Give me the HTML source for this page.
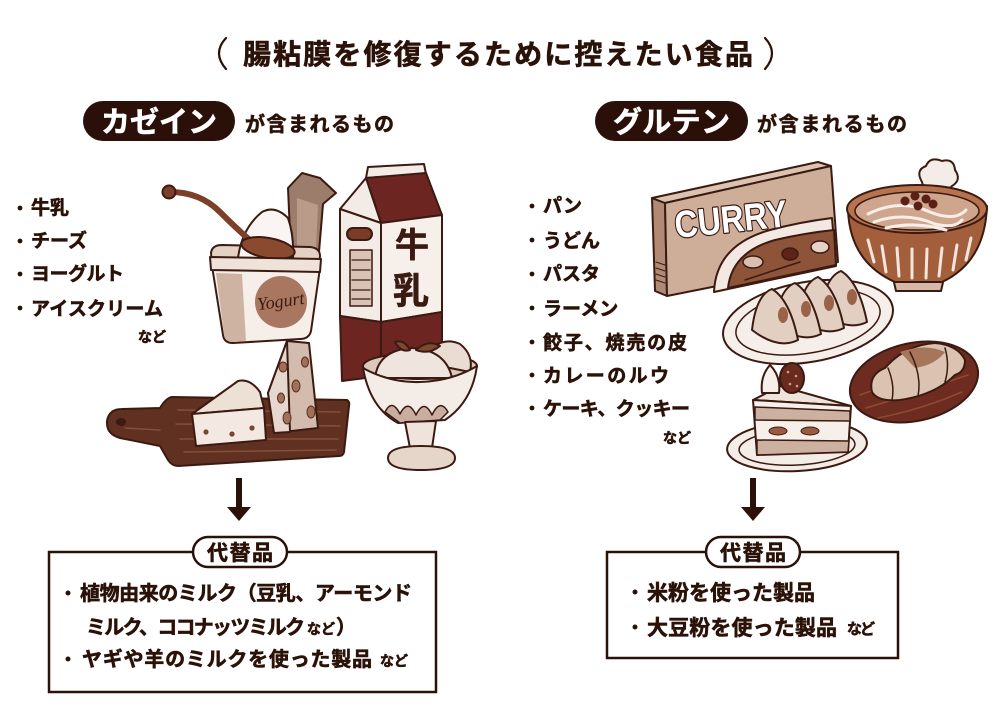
<!DOCTYPE html>
<html><head><meta charset="utf-8">
<style>
html,body{margin:0;padding:0;background:#fff;}
body{width:1000px;height:714px;overflow:hidden;position:relative;}
svg{position:absolute;left:0;top:0;}
text{font-family:"Liberation Sans","Noto Sans CJK JP",sans-serif;font-weight:700;}
.b{stroke:#2b1208;stroke-width:0.6;}
.w{stroke:#ffffff;stroke-width:0.6;}
</style></head>
<body>
<svg width="1000" height="714" viewBox="0 0 1000 714" xmlns="http://www.w3.org/2000/svg">
<!-- ===== Title ===== -->
<path d="M226,38 Q212,53 226,69" fill="none" stroke="#2b1208" stroke-width="2.2" stroke-linecap="round"/>
<path d="M765,38 Q779,53 765,69" fill="none" stroke="#2b1208" stroke-width="2.2" stroke-linecap="round"/>
<text class="b" x="243" y="64" font-size="28" fill="#2b1208" textLength="510" lengthAdjust="spacing">腸粘膜を修復するために控えたい食品</text>

<!-- ===== Headers ===== -->
<rect x="83" y="101" width="152" height="40" rx="20" fill="#2a1008"/>
<text class="w" x="101" y="132" font-size="29" fill="#ffffff" textLength="116" lengthAdjust="spacing">カゼイン</text>
<text class="b" x="245" y="131" font-size="20" fill="#2b1208" textLength="149" lengthAdjust="spacing">が含まれるもの</text>

<rect x="595" y="101" width="153" height="40" rx="20" fill="#2a1008"/>
<text class="w" x="613" y="132" font-size="29" fill="#ffffff" textLength="117" lengthAdjust="spacing">グルテン</text>
<text class="b" x="757" y="131" font-size="20" fill="#2b1208" textLength="150" lengthAdjust="spacing">が含まれるもの</text>

<!-- ===== Left list ===== -->
<g fill="#2b1208">
<circle cx="20" cy="208" r="2.4"/><text class="b" x="31" y="214" font-size="19">牛乳</text>
<circle cx="20" cy="241" r="2.4"/><text class="b" x="31" y="247" font-size="19">チーズ</text>
<circle cx="20" cy="274" r="2.4"/><text class="b" x="31" y="280" font-size="19" textLength="93" lengthAdjust="spacing">ヨーグルト</text>
<circle cx="20" cy="308" r="2.4"/><text class="b" x="31" y="315" font-size="19" textLength="132" lengthAdjust="spacing">アイスクリーム</text>
<text class="b" x="138" y="342" font-size="14">など</text>
</g>

<!-- ===== Right list ===== -->
<g fill="#2b1208">
<circle cx="532" cy="206" r="2.4"/><text class="b" x="543" y="212" font-size="19">パン</text>
<circle cx="532" cy="240" r="2.4"/><text class="b" x="543" y="247" font-size="19">うどん</text>
<circle cx="532" cy="274" r="2.4"/><text class="b" x="543" y="280" font-size="19">パスタ</text>
<circle cx="532" cy="308" r="2.4"/><text class="b" x="543" y="315" font-size="19">ラーメン</text>
<circle cx="532" cy="342" r="2.4"/><text class="b" x="543" y="349" font-size="19" textLength="144" lengthAdjust="spacing">餃子、焼売の皮</text>
<circle cx="532" cy="375" r="2.4"/><text class="b" x="543" y="382" font-size="19" textLength="126" lengthAdjust="spacing">カレーのルウ</text>
<circle cx="532" cy="408" r="2.4"/><text class="b" x="543" y="415" font-size="19" textLength="147" lengthAdjust="spacing">ケーキ、クッキー</text>
<text class="b" x="663" y="443" font-size="14">など</text>
</g>

<!-- ===== LEFT ILLUSTRATIONS ===== -->
<g stroke="#3b1a12" stroke-width="2" stroke-linejoin="round" stroke-linecap="round">
<!-- cutting board -->
<path d="M172,397 L347,400 Q350,402 349,406 L344,452 Q343,456 339,456 L178,466 Q172,466 168,460 L160,446 L120,438 Q106,434 107,421 Q109,409 122,409 L160,408 Q166,398 172,397 Z" fill="#603020"/>
<g stroke="#85503a" stroke-width="1.5" fill="none">
<path d="M178,410 L340,412"/><path d="M176,424 L340,426"/><path d="M180,439 L338,439"/><path d="M184,452 L336,450"/><path d="M125,428 L160,430"/>
</g>
<ellipse cx="121" cy="422" rx="4" ry="3" fill="#3b1a12"/>
<!-- brie -->
<path d="M192,414 L238,381 Q250,378 260,392 L264,408 Z" fill="#ede0d5"/>
<path d="M192,414 L264,408 L266,440 L196,446 Z" fill="#f3e9e2"/>
<g fill="#7a4632" stroke="none"><circle cx="206" cy="432" r="2.6"/><circle cx="232" cy="434" r="2.6"/><circle cx="252" cy="428" r="2.6"/></g>
<!-- tall cheese -->
<path d="M268,393 L287,341 L309,343 L318,428 L274,433 Z" fill="#d3bcae"/>
<path d="M268,393 L287,341 L290,432 L274,433 Z" fill="#e6d8ce"/>
<g fill="#a0705a" stroke="#5a2c1c" stroke-width="1">
<ellipse cx="283" cy="367" rx="4" ry="5"/><ellipse cx="296" cy="386" rx="4" ry="6"/><ellipse cx="281" cy="398" rx="3.5" ry="5"/>
<ellipse cx="287" cy="418" rx="4" ry="6"/><ellipse cx="311" cy="412" rx="4" ry="6"/><ellipse cx="305" cy="362" rx="3.5" ry="5"/>
</g>
<!-- yogurt lid -->
<path d="M288,188 L302,173 L320,178 L336,193 L323,204 L319,252 L291,255 Z" fill="#9c7c6a"/>
<path d="M297,198 L318,205 L316,248 L297,250 Z" fill="#b99b8a" stroke="none"/>
<!-- cup opening -->
<path d="M211,253 Q212,245 222,245 L310,247 Q320,248 320,256 L319,266 L212,266 Z" fill="#e3d1c4"/>
<!-- yogurt mound -->
<path d="M238,258 Q242,228 262,212 Q275,205 288,218 Q294,235 293,258 Z" fill="#faf5f2"/>
<!-- spoon -->
<path d="M170,192 Q200,192 220,212 Q238,230 252,242" fill="none" stroke="#7c3f27" stroke-width="6"/>
<circle cx="169" cy="192" r="6.5" fill="#7c3f27"/>
<ellipse cx="268" cy="248" rx="27" ry="10" transform="rotate(10 268 248)" fill="#8a4a30"/>
<!-- cup body -->
<path d="M212,266 L320,268 L311,331 Q309,339 300,339 L233,343 Q224,343 223,335 Z" fill="#f6eee8"/>
<path d="M210,257 L321,259 L320,272 L211,270 Z" fill="#efe2d8"/>
<path d="M216,273 L242,274 L246,341 L233,342 Q225,342 224,334 Z" fill="#cfb3a2" stroke="none"/>
<circle cx="281" cy="302" r="26" fill="#a9775f" stroke="none"/>
<text x="281" y="307" font-size="18" fill="#3b1a12" stroke="none" text-anchor="middle" transform="rotate(-8 281 303)" style="font-family:'Liberation Serif',serif;font-style:italic;font-weight:400">Yogurt</text>
<!-- milk carton -->
<path d="M366,178 L368,167 L424,164 L426,174 Z" fill="#f3ebe5"/>
<path d="M366,178 L426,173 L442,215 L381,223 Z" fill="#6c2521"/>
<path d="M366,178 L381,223 L340,209 Z" fill="#f3ebe5"/>
<path d="M340,209 L381,223 L381,322 L340,316 Z" fill="#f3ebe5"/>
<path d="M340,316 L381,322 L381,376 L342,381 Z" fill="#6c2521"/>
<path d="M381,223 L442,215 L442,312 L381,322 Z" fill="#f6efea"/>
<path d="M381,322 L442,312 L442,352 L381,362 Z" fill="#6c2521"/>
<rect x="347" y="228" width="25" height="12" rx="6" fill="#7c3a28"/>
<rect x="350" y="250" width="22" height="56" fill="#d9c3b5" stroke-width="1.5"/>
<g stroke-width="1.2"><path d="M352,260 L370,260"/><path d="M352,270 L370,270"/><path d="M352,280 L370,280"/><path d="M352,290 L370,290"/><path d="M352,299 L370,299"/></g>
<text x="412" y="257" font-size="34" fill="#3b1a12" stroke="#3b1a12" stroke-width="0.6" text-anchor="middle">牛</text>
<text x="411" y="303" font-size="36" fill="#3b1a12" stroke="#3b1a12" stroke-width="0.6" text-anchor="middle">乳</text>
<!-- ice cream -->
<ellipse cx="420" cy="366" rx="57" ry="13" fill="#dcc7ba"/>
<path d="M420,362 Q438,334 460,344 Q474,355 470,372 Z" fill="#e9dcd3"/>
<path d="M375,378 Q378,350 412,348 Q446,350 452,378 Z" fill="#efe5de"/>
<path d="M410,350 Q404,339 395,342 Q401,353 410,350 Z" fill="#7c4a30"/>
<path d="M416,350 Q428,339 440,346 Q429,355 416,350 Z" fill="#7c4a30"/>
<path d="M363,368 Q390,383 420,382 Q452,381 477,366 Q472,402 445,420 L398,423 Q370,408 363,368 Z" fill="#f4ece6"/>
<path d="M385,412 Q392,398 400,414 Q408,398 416,415 Q424,398 432,415 Q440,398 448,412 L440,420 L400,423 Z" fill="#c9ad9e" stroke-width="1.5"/>
<path d="M405,422 L436,421 L432,448 L410,448 Z" fill="#efe4dc"/>
<path d="M388,458 Q388,446 421,446 Q455,446 455,458 Q455,470 421,470 Q388,470 388,458 Z" fill="#e6d6ca"/>
</g>

<!-- ===== RIGHT ILLUSTRATIONS ===== -->
<g stroke="#3b1a12" stroke-width="2" stroke-linejoin="round" stroke-linecap="round">
<!-- curry box -->
<path d="M652,198 L665,203 L667,296 L655,291 Z" fill="#b08a75"/>
<path d="M652,198 L818,162 L831,166 L665,203 Z" fill="#dcc2b0"/>
<path d="M665,203 L831,166 L838,262 L667,296 Z" fill="#cfae99"/>
<g stroke-width="1"><path d="M656,262 L665,265"/><path d="M656,268 L665,271"/><path d="M656,274 L665,277"/><path d="M656,280 L665,283"/></g>
<path d="M714,292 Q716,245 770,230 Q800,222 832,218 L836,266 Z" fill="#f3e9e2"/>
<path d="M728,288 Q732,252 775,240 Q805,233 834,230 L836,265 Z" fill="#8e5439"/>
<ellipse cx="753" cy="262" rx="10" ry="6" fill="#d9bfae" stroke-width="1.5"/>
<ellipse cx="790" cy="254" rx="8" ry="6" fill="#5e2418" stroke-width="1.5"/>
<ellipse cx="820" cy="247" rx="9" ry="6" fill="#e6d3c6" stroke-width="1.5"/>
<path d="M745,280 Q775,270 800,262" fill="none" stroke-width="1.5"/>
<text x="676" y="238" font-size="38" fill="#ffffff" stroke="#3b1a12" stroke-width="2.5" paint-order="stroke" textLength="113" lengthAdjust="spacingAndGlyphs" transform="rotate(-6 676 238)" style="font-family:'Liberation Sans',sans-serif;font-weight:700">CURRY</text>
<!-- fu -->
<path d="M922,182 Q915,170 926,166 Q930,156 942,161 Q954,158 955,170 Q962,180 952,186 Q945,195 935,190 Q924,192 922,182 Z" fill="#f4ece6"/>
<!-- udon bowl -->
<path d="M893,278 L896,291 L941,291 L944,278 Z" fill="#d6b8a8"/>
<path d="M848,210 Q850,262 895,282 L942,282 Q985,262 987,206 Z" fill="#a35f3b"/>
<g stroke="#f2e6de" stroke-width="3"><path d="M868,240 L874,262"/><path d="M882,246 L886,272"/><path d="M897,248 L899,276"/><path d="M912,249 L912,278"/><path d="M927,249 L926,278"/><path d="M942,248 L939,276"/><path d="M957,245 L953,270"/><path d="M971,238 L966,260"/></g>
<ellipse cx="917" cy="209" rx="70" ry="24" fill="#b7734d"/>
<ellipse cx="917" cy="211" rx="62" ry="19" fill="#cfa58d" stroke-width="1.5"/>
<g fill="none" stroke="#f6efe9" stroke-width="3">
<path d="M868,214 Q900,198 930,212 Q955,222 966,210"/>
<path d="M874,222 Q905,211 935,224 Q955,229 962,220"/>
<path d="M886,228 Q915,221 946,230"/>
</g>
<g fill="#5a2018" stroke="none"><circle cx="905" cy="201" r="4.5"/><circle cx="915" cy="196" r="4.5"/><circle cx="926" cy="199" r="4.5"/><circle cx="918" cy="206" r="4.5"/><circle cx="933" cy="204" r="4.5"/></g>
<!-- gyoza plate -->
<ellipse cx="808" cy="322" rx="86" ry="40" transform="rotate(-10 808 322)" fill="#f6eee8"/>
<ellipse cx="808" cy="322" rx="73" ry="31" transform="rotate(-10 808 322)" fill="none" stroke-width="1.5"/>
<g fill="#e2cfc2">
<path d="M821,312 Q825,277 841,271 Q859,282 867,322 Q847,332 821,312 Z"/>
<path d="M798,318 Q802,283 818,277 Q836,288 844,328 Q824,338 798,318 Z"/>
<path d="M775,324 Q779,289 795,283 Q813,294 821,334 Q801,344 775,324 Z"/>
<path d="M752,330 Q756,295 772,289 Q790,300 798,340 Q778,350 752,330 Z"/>
</g>
<g fill="#9a6248" stroke="none">
<ellipse cx="783" cy="315" rx="5" ry="8"/><ellipse cx="806" cy="309" rx="5" ry="8"/><ellipse cx="829" cy="303" rx="5" ry="8"/><ellipse cx="852" cy="297" rx="5" ry="8"/>
</g>
<!-- croissant plate -->
<ellipse cx="914" cy="382" rx="65" ry="39" transform="rotate(-12 914 382)" fill="#6d2c1f"/>
<g fill="none" stroke="#8e4a34" stroke-width="1.5"><path d="M860,395 Q900,380 960,360"/><path d="M866,408 Q910,395 968,375"/><path d="M878,418 Q920,410 962,392"/></g>
<path d="M872,392 Q868,375 885,368 Q905,345 935,343 Q958,345 965,360 Q965,372 955,375 Q935,395 900,400 Q878,402 872,392 Z" fill="#dcc3b1"/>
<path d="M900,352 Q925,343 945,352 Q935,365 915,368 Z" fill="#a6765a" stroke="none"/>
<g fill="none" stroke-width="1.5"><path d="M888,368 Q895,385 892,400"/><path d="M910,352 Q922,375 918,396"/><path d="M945,348 Q950,365 945,382"/></g>
<!-- cake -->
<ellipse cx="797" cy="446" rx="70" ry="25" transform="rotate(-3 797 446)" fill="#f4ece6"/>
<ellipse cx="797" cy="447" rx="58" ry="18" transform="rotate(-3 797 447)" fill="none" stroke-width="1.5"/>
<path d="M753,400 L780,386 L851,406 Z" fill="#efe4dc"/>
<path d="M753,400 L851,406 L848,452 L757,455 Z" fill="#f6efea"/>
<path d="M755,407 L850,411 L850,421 L755,420 Z" fill="#cdb1a0" stroke-width="1.5"/>
<path d="M757,440 L849,441 L848,452 L757,455 Z" fill="#cdb1a0" stroke-width="1.5"/>
<ellipse cx="778" cy="431" rx="9" ry="4" fill="#9a5a40" stroke-width="1"/>
<ellipse cx="810" cy="431" rx="9" ry="4" fill="#9a5a40" stroke-width="1"/>
<path d="M762,393 Q760,376 770,365 Q781,376 779,393 Z" fill="#f6efea"/>
<ellipse cx="792" cy="378" rx="12" ry="15" fill="#6a2a1e"/>
<g fill="#c8a08a" stroke="none"><circle cx="788" cy="372" r="1.3"/><circle cx="796" cy="376" r="1.3"/><circle cx="790" cy="384" r="1.3"/><circle cx="797" cy="386" r="1.3"/></g>
</g>

<!-- ===== Arrows ===== -->
<g fill="#2b1208">
<rect x="236" y="478" width="6" height="31"/>
<path d="M227,507 L251,507 L239,521 Z"/>
<rect x="750" y="478" width="6" height="31"/>
<path d="M741,507 L765,507 L753,521 Z"/>
</g>

<!-- ===== Left box ===== -->
<rect x="49" y="552" width="387" height="140" fill="none" stroke="#2b1208" stroke-width="2.5"/>
<rect x="193" y="537" width="94" height="30" rx="15" fill="#ffffff" stroke="#2b1208" stroke-width="2.5"/>
<text class="b" x="207" y="560" font-size="21" fill="#2b1208" textLength="66" lengthAdjust="spacing">代替品</text>
<g fill="#2b1208">
<circle cx="68" cy="593" r="2.5"/>
<text class="b" x="80" y="600" font-size="20" textLength="332" lengthAdjust="spacing">植物由来のミルク（豆乳、アーモンド</text>
<text class="b" x="86" y="634" font-size="20" textLength="219" lengthAdjust="spacing">ミルク、ココナッツミルク</text>
<text class="b" x="307" y="634" font-size="14" textLength="28" lengthAdjust="spacing">など</text>
<text class="b" x="336" y="634" font-size="20">）</text>
<circle cx="68" cy="659" r="2.5"/>
<text class="b" x="82" y="666" font-size="20" textLength="290" lengthAdjust="spacing">ヤギや羊のミルクを使った製品</text>
<text class="b" x="380" y="666" font-size="14" textLength="28" lengthAdjust="spacing">など</text>
</g>

<!-- ===== Right box ===== -->
<rect x="607" y="552" width="291" height="106" fill="none" stroke="#2b1208" stroke-width="2.5"/>
<rect x="706" y="537" width="94" height="30" rx="15" fill="#ffffff" stroke="#2b1208" stroke-width="2.5"/>
<text class="b" x="720" y="560" font-size="21" fill="#2b1208" textLength="66" lengthAdjust="spacing">代替品</text>
<g fill="#2b1208">
<circle cx="635" cy="592" r="2.5"/>
<text class="b" x="647" y="600" font-size="21" textLength="168" lengthAdjust="spacing">米粉を使った製品</text>
<circle cx="635" cy="627" r="2.5"/>
<text class="b" x="647" y="635" font-size="21" textLength="190" lengthAdjust="spacing">大豆粉を使った製品</text>
<text class="b" x="847" y="634" font-size="15" textLength="28" lengthAdjust="spacing">など</text>
</g>
</svg>
</body></html>
